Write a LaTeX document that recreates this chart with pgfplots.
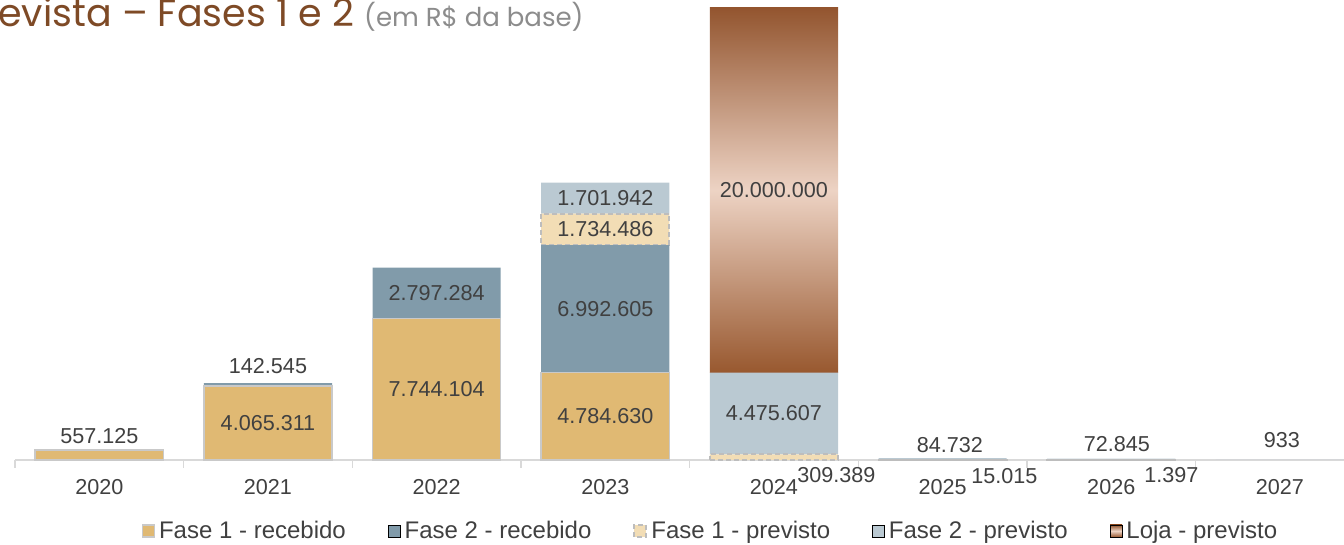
\documentclass[border=0pt]{standalone}
\usepackage{pgfplots}
\pgfplotsset{compat=1.18}
\usepackage{pgfplotstable}
\usepackage{fontspec}
\setmainfont{Liberation Sans}
\newfontfamily\titlefont{Poppins}
\definecolor{fir}{HTML}{E0B973}
\definecolor{fiir}{HTML}{819BAA}
\definecolor{fip}{HTML}{F2DDB5}
\definecolor{fiip}{HTML}{BAC9D2}
\definecolor{lojatop}{HTML}{93552F}
\definecolor{lojamid}{HTML}{EDD3C4}
\definecolor{lojabot}{HTML}{98582F}
\definecolor{txt}{HTML}{404040}
\definecolor{axgray}{HTML}{D9D9D9}
\definecolor{bordgray}{HTML}{C9C9C9}
\definecolor{dashgray}{HTML}{BDBDBD}
\definecolor{titlebrown}{HTML}{7E4A26}
\definecolor{subgray}{HTML}{8C8C8C}
\newcommand\lblfont{\fontsize{10.8}{12}\selectfont}

% values in R$ per year (x = 0 for 2020 ... 7 for 2027)
\pgfplotstableread{
x y
0 557125
1 4065311
2 7744104
3 4784630
4 0
5 0
6 0
7 0
}\faseIrec
\pgfplotstableread{
x y
0 0
1 142545
2 2797284
3 6992605
4 0
5 0
6 0
7 0
}\faseIIrec
\pgfplotstableread{
x y
0 0
1 0
2 0
3 1734486
4 309389
5 15015
6 1397
7 0
}\faseIprev
\pgfplotstableread{
x y
0 0
1 0
2 0
3 1701942
4 4475607
5 84732
6 72845
7 933
}\faseIIprev
\pgfplotstableread{
x y
0 0
1 0
2 0
3 0
4 20000000
5 0
6 0
7 0
}\lojaprev
% data labels: position (x, pos) and value shown
\pgfplotstableread{
x pos val
0 1316000 557125
1 2032656 4065311
2 3872052 7744104
3 2392315 4784630
1 5154000 142545
2 9142746 2797284
3 8280933 6992605
3 12644478 1734486
4.37 -822000 309389
5.366 -877000 15015
6.356 -822000 1397
3 14362692 1701942
4 2547193 4475607
5.043 822000 84732
6.033 877000 72845
7.012 1096000 933
4 14784996 20000000
}\labels

\pgfplotsset{
  common/.style={
    at={(7.5pt,42.5pt)}, anchor=south west,
    scale only axis, width=664.5pt, height=230pt,
    xmin=-0.5, xmax=7.38, ymin=0, ymax=25220000,
    clip=false,
  }
}

\begin{document}
\begin{tikzpicture}
\useasboundingbox (0,0) rectangle (672pt,272.5pt);
\begin{axis}[
  common,
  ybar stacked, bar width=0.76,
  hide y axis,
  axis x line*=bottom,
  x axis line style={draw=axgray, line width=0.75pt, -},
  xtick={0,...,7},
  xticklabels={2020,2021,2022,2023,2024,2025,2026,2027},
  major tick length=0pt,
  minor xtick={-0.5,0.5,...,6.5},
  minor tick length=4pt,
  tick align=outside,
  minor x tick style={draw=axgray, line width=0.75pt},
  xticklabel style={font=\lblfont, text=txt, anchor=base, yshift=-17.5pt},
  legend columns=5,
  legend style={at={(0.524,-0.1543)}, anchor=center, draw=none, fill=none,
    font=\fontsize{12}{14}\selectfont, text=txt, inner sep=0pt,
    /tikz/every even column/.append style={column sep=19pt}},
  legend image code/.code={\draw[#1] (0pt,-3pt) rectangle (6pt,3pt);},
]
\addplot[fill=fir, draw=bordgray, line width=0.75pt] table[x=x,y=y]{\faseIrec};
\addlegendentry{Fase 1 - recebido}
\addplot[fill=fiir, draw=none] table[x=x,y=y]{\faseIIrec};
\addlegendentry{Fase 2 - recebido}
\addplot[fill=fip, draw=dashgray, line width=1pt, dash pattern=on 2.5pt off 1.5pt] table[x=x,y=y]{\faseIprev};
\addlegendentry{Fase 1 - previsto}
\addplot[fill=fiip, draw=none] table[x=x,y=y]{\faseIIprev};
\addlegendentry{Fase 2 - previsto}
\addplot[draw=none, top color=lojatop, bottom color=lojabot, middle color=lojamid] table[x=x,y=y]{\lojaprev};
\addlegendentry{Loja - previsto}
\end{axis}
\begin{axis}[
  common, hide axis,
  /pgf/number format/.cd, fixed, precision=0, 1000 sep={.}, assume math mode=true,
]
\addplot[only marks, mark=none, point meta=explicit,
  nodes near coords={\pgfmathprintnumber{\pgfplotspointmeta}},
  nodes near coords align={anchor=center},
  every node near coord/.append style={font=\lblfont, text=txt, inner sep=0pt, anchor=center}]
  table[x=x,y=pos,meta=val]{\labels};
\end{axis}
\node[anchor=base west, inner sep=0pt] at (-1pt,259pt)
  {\titlefont\fontsize{19}{21}\selectfont\color{titlebrown}evista – Fases 1 e 2 {\fontsize{13}{15}\selectfont\color{subgray}(em R\$ da base)}};
\end{tikzpicture}
\end{document}
